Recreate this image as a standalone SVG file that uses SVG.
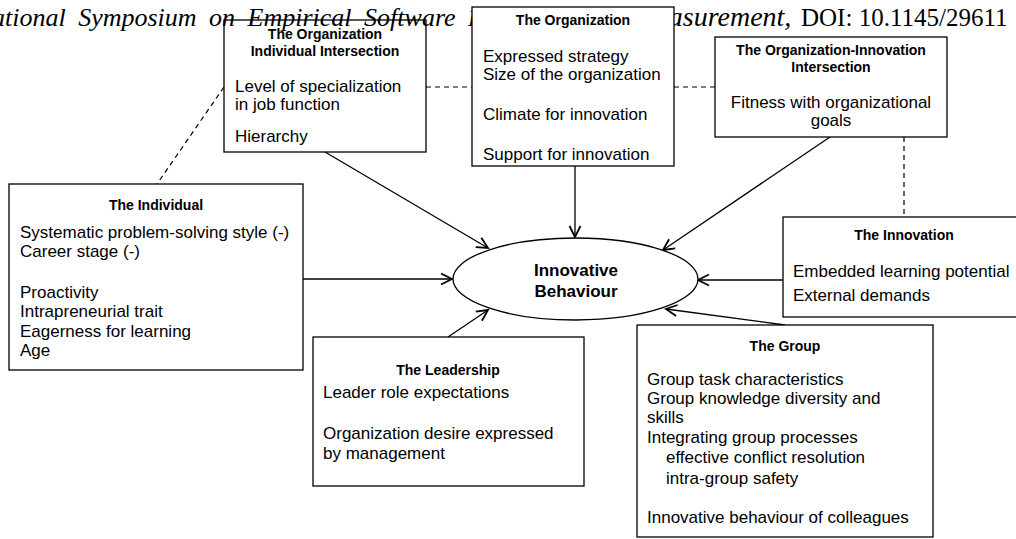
<svg xmlns="http://www.w3.org/2000/svg" width="1016" height="539" viewBox="0 0 1016 539">
<defs>
<style>
.box{fill:#fff;stroke:#000;stroke-width:1.3}
.t{font-family:"Liberation Sans",Arial,sans-serif;font-size:17px;fill:#000}
.h{font-family:"Liberation Sans",Arial,sans-serif;font-size:14px;font-weight:bold;fill:#000;text-anchor:middle}
.e{font-family:"Liberation Sans",Arial,sans-serif;font-size:17px;font-weight:bold;fill:#000;text-anchor:middle}
.c{text-anchor:middle}
.dash{fill:none;stroke:#000;stroke-width:1.2;stroke-dasharray:5,4}
.arr{fill:none;stroke:#000;stroke-width:1.3;marker-end:url(#ah)}
.hdr{font-family:"Liberation Serif","Times New Roman",serif;font-size:26px;fill:#000}
</style>
<marker id="ah" markerUnits="userSpaceOnUse" markerWidth="14" markerHeight="14" refX="12" refY="6" orient="auto" viewBox="0 0 14 12">
<path d="M1,0.5 L12,6 L1,11.5" fill="none" stroke="#000" stroke-width="1.8"/>
</marker>
</defs>
<rect width="1016" height="539" fill="#fff"/>

<g id="node-org-individual">
<rect class="box" x="224" y="20" width="202" height="132"/>
<text class="h" x="325" y="39">The Organization</text>
<text class="h" x="325" y="56">Individual Intersection</text>
<text class="t" x="235" y="92">Level of specialization</text>
<text class="t" x="235" y="110">in job function</text>
<text class="t" x="235" y="142">Hierarchy</text>
</g>

<text id="header" class="hdr" x="-8" y="26"><tspan font-style="italic" word-spacing="6">ational Symposium on Empirical Software </tspan><tspan font-style="italic" font-size="24">Engineering and </tspan><tspan font-style="italic" x="633" font-size="28">Measurement,</tspan><tspan x="801" font-size="25">DOI: 10.1145/29611</tspan></text>

<g id="connectors">
<line class="dash" x1="426" y1="87" x2="472" y2="87"/>
<line class="dash" x1="674" y1="87" x2="715" y2="87"/>
<line class="dash" x1="224" y1="87" x2="157" y2="184"/>
<line class="dash" x1="904" y1="137" x2="904" y2="217"/>
<line class="arr" x1="325" y1="152" x2="488" y2="248"/>
<line class="arr" x1="575" y1="166" x2="575" y2="237"/>
<line class="arr" x1="830" y1="137" x2="663" y2="250"/>
<line class="arr" x1="303" y1="279" x2="452" y2="279"/>
<line class="arr" x1="783" y1="280" x2="698" y2="280"/>
<line class="arr" x1="448" y1="337" x2="488" y2="310"/>
<line class="arr" x1="785" y1="325" x2="666" y2="309"/>
</g>

<g id="node-organization">
<rect class="box" x="472" y="7" width="202" height="159"/>
<text class="h" x="573" y="25">The Organization</text>
<text class="t" x="483" y="62">Expressed strategy</text>
<text class="t" x="483" y="80">Size of the organization</text>
<text class="t" x="483" y="120">Climate for innovation</text>
<text class="t" x="483" y="160">Support for innovation</text>
</g>

<g id="node-org-innovation">
<rect class="box" x="715" y="37" width="232" height="100"/>
<text class="h" x="831" y="55">The Organization-Innovation</text>
<text class="h" x="831" y="72">Intersection</text>
<text class="t c" x="831" y="108">Fitness with organizational</text>
<text class="t c" x="831" y="126">goals</text>
</g>

<g id="node-innovation">
<rect class="box" x="783" y="217" width="242" height="100"/>
<text class="h" x="904" y="240">The Innovation</text>
<text class="t" x="793" y="277">Embedded learning potential</text>
<text class="t" x="793" y="301">External demands</text>
</g>

<g id="node-individual">
<rect class="box" x="9" y="184" width="294" height="186"/>
<text class="h" x="156" y="210">The Individual</text>
<text class="t" x="20" y="238">Systematic problem-solving style (-)</text>
<text class="t" x="20" y="257">Career stage (-)</text>
<text class="t" x="20" y="298">Proactivity</text>
<text class="t" x="20" y="317">Intrapreneurial trait</text>
<text class="t" x="20" y="337">Eagerness for learning</text>
<text class="t" x="20" y="356">Age</text>
</g>

<g id="node-innovative-behaviour">
<ellipse cx="575.5" cy="279" rx="122.5" ry="41" fill="#fff" stroke="#000" stroke-width="1.3"/>
<text class="e" x="576" y="276">Innovative</text>
<text class="e" x="576" y="297">Behaviour</text>
</g>

<g id="node-leadership">
<rect class="box" x="313" y="337" width="271" height="149"/>
<text class="h" x="448" y="375">The Leadership</text>
<text class="t" x="323" y="398">Leader role expectations</text>
<text class="t" x="323" y="439">Organization desire expressed</text>
<text class="t" x="323" y="459">by management</text>
</g>

<g id="node-group">
<rect class="box" x="637" y="325" width="296" height="212"/>
<text class="h" x="785" y="351">The Group</text>
<text class="t" x="647" y="385">Group task characteristics</text>
<text class="t" x="647" y="404">Group knowledge diversity and</text>
<text class="t" x="647" y="423">skills</text>
<text class="t" x="647" y="443">Integrating group processes</text>
<text class="t" x="666" y="463">effective conflict resolution</text>
<text class="t" x="666" y="484">intra-group safety</text>
<text class="t" x="647" y="523">Innovative behaviour of colleagues</text>
</g>
</svg>
